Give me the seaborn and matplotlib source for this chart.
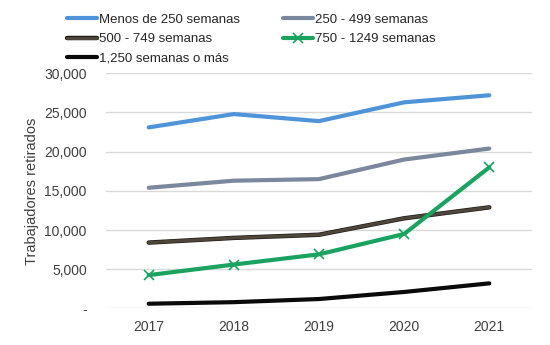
import matplotlib
matplotlib.use("Agg")
import matplotlib.pyplot as plt
import matplotlib.patheffects as pe
import seaborn as sns
import pandas as pd
from matplotlib.ticker import FuncFormatter

years = ["2017", "2018", "2019", "2020", "2021"]
menos_250 = [23100, 24800, 23900, 26300, 27200]
s250_499 = [15400, 16300, 16500, 19000, 20400]
s500_749 = [8400, 9000, 9400, 11500, 12900]
s750_1249 = [4250, 5600, 6900, 9500, 18000]
s1250_mas = [600, 800, 1200, 2100, 3200]

series_names = ["Menos de 250 semanas", "250 - 499 semanas", "500 - 749 semanas",
                "750 - 1249 semanas", "1,250 semanas o más"]
series_vals = [menos_250, s250_499, s500_749, s750_1249, s1250_mas]
colors = ["#4f93d8", "#7a879c", "#4e463b", "#1aa35f", "#0a0a0a"]

rows = []
for name, vals in zip(series_names, series_vals):
    for y, v in zip(years, vals):
        rows.append({"Año": y, "Valor": v, "Serie": name})
df = pd.DataFrame(rows)

sns.set_theme(style="white")
plt.rcParams["font.family"] = ["Liberation Sans", "DejaVu Sans"]

fig = plt.figure(figsize=(5.5, 3.45), dpi=100)
ax = fig.add_axes([0.193, 0.106, 0.774, 0.6815])

for name, col in zip(series_names, colors):
    sub = df[df["Serie"] == name]
    kw = {}
    if name == "750 - 1249 semanas":
        kw = dict(marker="x", markersize=7, markeredgewidth=1.2, markeredgecolor=col)
    sns.lineplot(data=sub, x="Año", y="Valor", ax=ax, color=col, linewidth=3,
                 label=name, sort=False, **kw)

for line in ax.lines:
    if line.get_label() == "500 - 749 semanas":
        line.set_path_effects([pe.Stroke(linewidth=3.2, foreground="#1f1a14"),
                               pe.Normal()])
        line.set_linewidth(2.2)

ax.set_ylim(0, 30000)
ax.set_xlim(-0.5, 4.5)
ax.set_yticks(range(0, 30001, 5000))
ax.yaxis.set_major_formatter(FuncFormatter(lambda v, p: "-" if v == 0 else f"{int(v):,}"))
ax.grid(axis="y", color="#d9d9d9", linewidth=1)
ax.set_axisbelow(True)
for s in ax.spines.values():
    s.set_visible(False)
ax.tick_params(axis="both", length=0, labelsize=10, colors="#404040", pad=8)
ax.tick_params(axis="y", pad=14)
ax.set_xlabel("")
ax.set_ylabel("Trabajadores retirados", fontsize=10.5, color="#404040", labelpad=4)

handles, labels = ax.get_legend_handles_labels()
ax.get_legend().remove()
order = [0, 2, 4, 1, 3]
fig.legend([handles[i] for i in order], [labels[i] for i in order], ncol=2,
           loc="upper left", bbox_to_anchor=(0.10, 0.995),
           frameon=False, fontsize=9.5, handlelength=2.3, handletextpad=0.1,
           columnspacing=3.3, labelspacing=0.55, labelcolor="#262626")

fig.savefig("out.png", dpi=100)
